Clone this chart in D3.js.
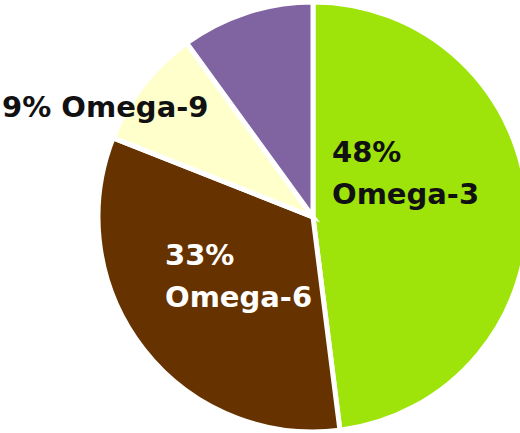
<!DOCTYPE html>
<html><head><meta charset="utf-8">
<script src="https://cdn.jsdelivr.net/npm/d3@7"></script>
<style>html,body{margin:0;padding:0;background:#fff;overflow:hidden}</style>
</head><body>
<svg id="c" width="520" height="433"></svg>
<script>
const categories = ["Omega-3", "Omega-6", "Omega-9", "Other"];
const values = [48, 33, 9, 10];
const labelLines = [["48%", "Omega-3"], ["33%", "Omega-6"], ["9% Omega-9"], []];
const colors = ["#9ee40a", "#663300", "#ffffcc", "#8064a2"];
const textColors = ["#111", "#fff", "#111", "#111"];

const svg = d3.select("#c");
const cx = 313, cy = 217, r = 215;
const data = categories.map((c, i) => ({c, v: values[i], i}));
const pie = d3.pie().value(d => d.v).sort(null);
const arcs = pie(data);
const arc = d3.arc().innerRadius(0).outerRadius(r);
const g = svg.append("g").attr("transform", `translate(${cx},${cy})`);
g.selectAll("path").data(arcs).join("path")
  .attr("d", arc)
  .attr("fill", d => colors[d.data.i])
  .attr("stroke", "#fff").attr("stroke-width", 5).attr("stroke-linejoin", "miter");

// label anchors (left x, first baseline) relative to page
const labelPos = [[332, 162], [165, 265], [2, 117], [0, 0]];
const lineH = 42;
arcs.forEach((d, k) => {
  const lines = labelLines[d.data.i];
  if (!lines.length) return;
  const t = svg.append("text")
    .attr("x", labelPos[k][0]).attr("y", labelPos[k][1])
    .attr("fill", textColors[d.data.i])
    .style("font-family", "'DejaVu Sans', sans-serif")
    .style("font-weight", "bold").style("font-size", "29px");
  lines.forEach((l, j) => t.append("tspan").attr("x", labelPos[k][0]).attr("dy", j ? lineH : 0).text(l));
});
</script>
</body></html>
